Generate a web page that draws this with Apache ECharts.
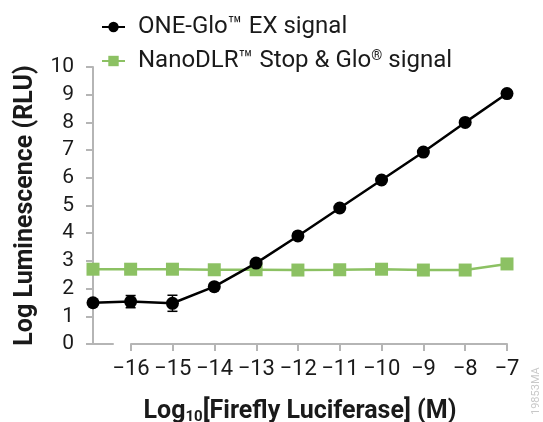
<!DOCTYPE html>
<html>
<head>
<meta charset="utf-8">
<script src="https://cdn.jsdelivr.net/npm/echarts@6/dist/echarts.min.js"></script>
<style>
  html, body { margin: 0; padding: 0; background: #fff; }
  #main { width: 543px; height: 422px; }
</style>
</head>
<body>
<div id="main"></div>
<script>
// x positions: first point is the no-luciferase control drawn at the y axis
var concLog = [-16.9, -16, -15, -14, -13, -12, -11, -10, -9, -8, -7];
var oneGlo = [1.49, 1.53, 1.47, 2.07, 2.92, 3.90, 4.91, 5.92, 6.93, 8.00, 9.04];
var oneGloErr = [0.06, 0.22, 0.29, 0.05, 0.05, 0.04, 0.04, 0.04, 0.04, 0.04, 0.04];
var nanoDlr = [2.70, 2.70, 2.70, 2.68, 2.68, 2.67, 2.68, 2.70, 2.67, 2.67, 2.89];
var xTicks = [-16, -15, -14, -13, -12, -11, -10, -9, -8, -7];
var seriesNames = ['ONE-Glo™ EX signal', 'NanoDLR™ Stop & Glo® signal'];

var gray = '#b5b5b5';
var green = '#8cc163';
var ink = '#1a1a1a';
var font = 'Roboto, "Noto Sans", sans-serif';

var myChart = echarts.init(document.getElementById('main'));

function pairs(ys) {
    return ys.map(function (v, i) { return [concLog[i], v]; });
}

myChart.setOption({
    animation: false,
    textStyle: { fontFamily: font },
    legend: {
        data: seriesNames,
        orient: 'vertical',
        left: 96,
        top: 10,
        itemGap: 10,
        itemWidth: 23,
        itemHeight: 13,
        formatter: function (name) {
            return name.replace('®', '{sup|®}');
        },
        textStyle: {
            fontSize: 24, color: ink, fontFamily: font, padding: [0, 0, 0, 8],
            rich: {
                sup: { fontSize: 14, color: ink, fontFamily: font, verticalAlign: 'top', padding: [0, 0, 8, 0] }
            }
        }
    },
    grid: [
        { left: 93, right: 36, top: 67, bottom: 78, outerBoundsMode: 'none' },
        { left: 131, right: 36, top: 67, bottom: 78, outerBoundsMode: 'none' },
        { left: 93, width: 20, top: 67, bottom: 78, outerBoundsMode: 'none' }
    ],
    xAxis: [
        {
            gridIndex: 0, type: 'value', min: -16.9, max: -7,
            axisLine: { show: false }, axisTick: { show: false },
            axisLabel: { show: false }, splitLine: { show: false },
            name: 'Log{sub|10}[Firefly Luciferase] (M)',
            nameLocation: 'middle', nameGap: 54,
            nameTextStyle: {
                fontSize: 25, fontWeight: 'bold', color: ink, fontFamily: font,
                rich: {
                    sub: { fontSize: 15, fontWeight: 'bold', color: ink, verticalAlign: 'bottom', padding: [12, 0, 0, 0], fontFamily: font }
                }
            }
        },
        {
            gridIndex: 1, type: 'value', min: xTicks[0], max: xTicks[xTicks.length - 1], interval: 1,
            axisLine: { show: true, lineStyle: { color: gray, width: 2 } },
            axisTick: { show: true, length: 7, lineStyle: { color: gray, width: 2 } },
            axisLabel: {
                fontSize: 22, color: ink, margin: 14, fontFamily: font,
                formatter: function (v) { return v < 0 ? '\u2212' + Math.abs(v) : String(v); }
            },
            splitLine: { show: false }
        },
        {
            gridIndex: 2, type: 'value', min: 0, max: 1,
            axisLine: { show: true, lineStyle: { color: gray, width: 2 } },
            axisTick: { show: false }, axisLabel: { show: false }, splitLine: { show: false }
        }
    ],
    yAxis: [
        {
            gridIndex: 0, type: 'value', min: 0, max: 10, interval: 1,
            axisLine: { show: true, lineStyle: { color: gray, width: 2 } },
            axisTick: { show: true, length: 7, lineStyle: { color: gray, width: 2 } },
            axisLabel: { fontSize: 21, color: ink, margin: 19, fontFamily: font },
            splitLine: { show: false },
            name: 'Log Luminescence (RLU)',
            nameLocation: 'middle', nameGap: 55,
            nameTextStyle: { fontSize: 25, fontWeight: 'bold', color: ink, fontFamily: font }
        },
        { gridIndex: 1, type: 'value', min: 0, max: 10, show: false },
        { gridIndex: 2, type: 'value', min: 0, max: 10, show: false }
    ],
    graphic: [
        {
            type: 'text', right: 1, bottom: 7, rotation: Math.PI / 2,
            style: { text: '19853MA', fontSize: 11, fill: '#c8c8c8', fontFamily: font }
        }
    ],
    series: [
        {
            name: seriesNames[1],
            type: 'line',
            xAxisIndex: 0, yAxisIndex: 0,
            data: pairs(nanoDlr),
            symbol: 'rect', symbolSize: 13,
            itemStyle: { color: green },
            lineStyle: { color: green, width: 2.5 },
            z: 2
        },
        {
            type: 'custom',
            xAxisIndex: 0, yAxisIndex: 0,
            data: oneGlo.map(function (v, i) { return [concLog[i], v - oneGloErr[i], v + oneGloErr[i]]; }),
            renderItem: function (params, api) {
                var lo = api.coord([api.value(0), api.value(1)]);
                var hi = api.coord([api.value(0), api.value(2)]);
                var w = 5;
                var st = { stroke: '#000', lineWidth: 1.5 };
                return {
                    type: 'group',
                    children: [
                        { type: 'line', shape: { x1: lo[0], y1: lo[1], x2: hi[0], y2: hi[1] }, style: st },
                        { type: 'line', shape: { x1: lo[0] - w, y1: lo[1], x2: lo[0] + w, y2: lo[1] }, style: st },
                        { type: 'line', shape: { x1: hi[0] - w, y1: hi[1], x2: hi[0] + w, y2: hi[1] }, style: st }
                    ]
                };
            },
            z: 3
        },
        {
            name: seriesNames[0],
            type: 'line',
            xAxisIndex: 0, yAxisIndex: 0,
            data: pairs(oneGlo),
            symbol: 'circle', symbolSize: 13,
            itemStyle: { color: '#000' },
            lineStyle: { color: '#000', width: 2.5 },
            z: 4
        }
    ]
});
</script>
</body>
</html>
